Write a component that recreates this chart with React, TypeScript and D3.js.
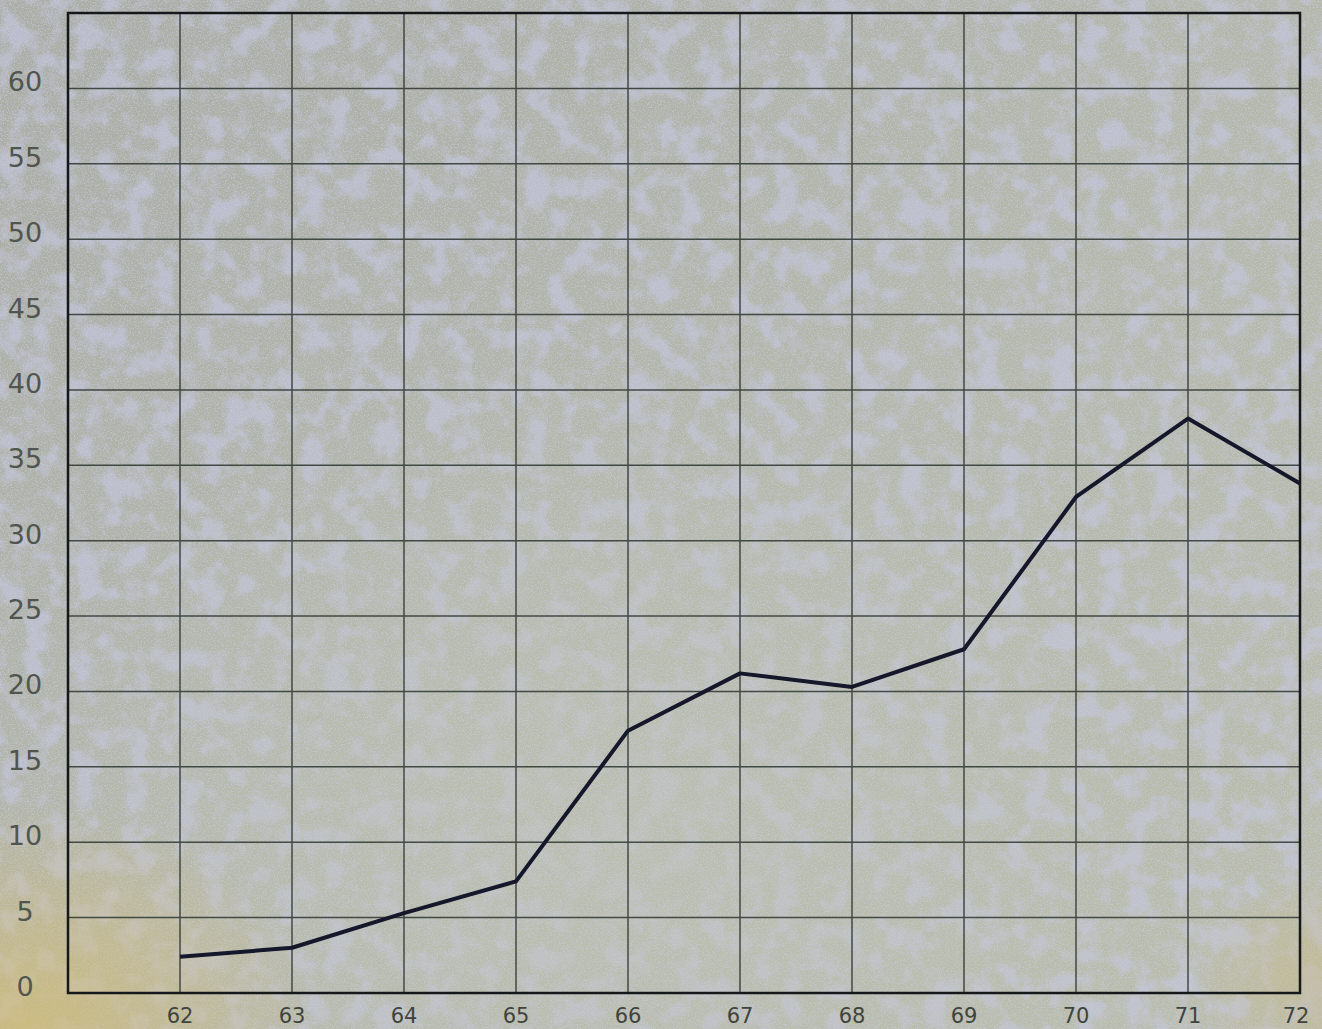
import * as d3 from "d3";

const years = [62, 63, 64, 65, 66, 67, 68, 69, 70, 71, 72];
const values = [2.4, 3.0, 5.3, 7.4, 17.4, 21.2, 20.3, 22.8, 32.9, 38.1, 33.8];
const yTicks = [0, 5, 10, 15, 20, 25, 30, 35, 40, 45, 50, 55, 60];
const yGrid = [5, 10, 15, 20, 25, 30, 35, 40, 45, 50, 55, 60];

const W = 1322;
const H = 1029;

export default function App() {
  const x = d3.scaleLinear().domain([61, 72]).range([68, 1300]);
  const y = d3.scaleLinear().domain([0, 65]).range([993, 13]);

  const line = d3
    .line<number>()
    .x((_, i) => x(years[i]))
    .y((d) => y(d));

  const font = "'DejaVu Sans', sans-serif";

  return (
    <svg
      width={W}
      height={H}
      style={{ position: "absolute", left: 0, top: 0 }}
    >
      <defs>
        <linearGradient id="paper" x1="0" y1="0" x2="1" y2="1">
          <stop offset="0%" stopColor="#aaada4" />
          <stop offset="55%" stopColor="#b5b8aa" />
          <stop offset="100%" stopColor="#bbbdab" />
        </linearGradient>
        <radialGradient id="yellow" cx="0.02" cy="1" r="0.22">
          <stop offset="0%" stopColor="#d4bc6c" stopOpacity={0.7} />
          <stop offset="100%" stopColor="#d4bc6c" stopOpacity={0} />
        </radialGradient>
        <radialGradient id="yellow2" cx="1" cy="0.95" r="0.1">
          <stop offset="0%" stopColor="#c9b878" stopOpacity={0.45} />
          <stop offset="100%" stopColor="#c9b878" stopOpacity={0} />
        </radialGradient>
        <filter id="blotch" x="0" y="0" width="100%" height="100%">
          <feTurbulence type="fractalNoise" baseFrequency="0.04" numOctaves={5} seed={3} result="n" />
          <feColorMatrix
            in="n"
            type="matrix"
            values="0 0 0 0 0.56  0 0 0 0 0.58  0 0 0 0 0.76  4 0 0 0 -1.8"
          />
        </filter>
        <filter id="grain" x="0" y="0" width="100%" height="100%">
          <feTurbulence type="fractalNoise" baseFrequency="0.7" numOctaves={2} seed={7} result="g" />
          <feColorMatrix
            in="g"
            type="matrix"
            values="0 0 0 0 0.58  0 0 0 0 0.6  0 0 0 0 0.78  5 0 0 0 -2.4"
          />
        </filter>
        <radialGradient id="fade" cx="0.45" cy="0.8" r="0.45">
          <stop offset="0%" stopColor="#bec1b1" stopOpacity={0.7} />
          <stop offset="100%" stopColor="#bec1b1" stopOpacity={0} />
        </radialGradient>
      </defs>

      <rect width={W} height={H} fill="url(#paper)" />
      <rect width={W} height={H} filter="url(#blotch)" opacity={0.6} />
      <rect width={W} height={H} fill="url(#fade)" />
      <rect width={W} height={H} filter="url(#grain)" opacity={0.5} />
      <rect width={W} height={H} fill="url(#yellow)" />
      <rect width={W} height={H} fill="url(#yellow2)" />

      {/* grid */}
      <g stroke="#2c352f" strokeWidth={1.5} opacity={0.85}>
        {yGrid.map((v) => (
          <line key={"h" + v} x1={x(61)} x2={x(72)} y1={y(v)} y2={y(v)} />
        ))}
        {years.slice(0, -1).map((v) => (
          <line key={"v" + v} x1={x(v)} x2={x(v)} y1={y(0)} y2={y(65)} />
        ))}
      </g>

      {/* frame */}
      <rect
        x={x(61)}
        y={y(65)}
        width={x(72) - x(61)}
        height={y(0) - y(65)}
        fill="none"
        stroke="#15181a"
        strokeWidth={2.5}
      />

      {/* series */}
      <path
        d={line(values) ?? ""}
        fill="none"
        stroke="#15172a"
        strokeWidth={4}
        strokeLinejoin="round"
      />

      {/* y labels */}
      <g fontFamily={font} fontSize={27} fill="#50554f" textAnchor="middle">
        {yTicks.map((v) => (
          <text key={"yl" + v} x={25} y={y(v) + 3}>
            {v}
          </text>
        ))}
      </g>

      {/* x labels */}
      <g fontFamily={font} fontSize={21} fill="#3f443f" textAnchor="middle">
        {years.map((v) => (
          <text key={"xl" + v} x={v === 72 ? x(v) - 4 : x(v)} y={1023}>
            {v}
          </text>
        ))}
      </g>
    </svg>
  );
}
